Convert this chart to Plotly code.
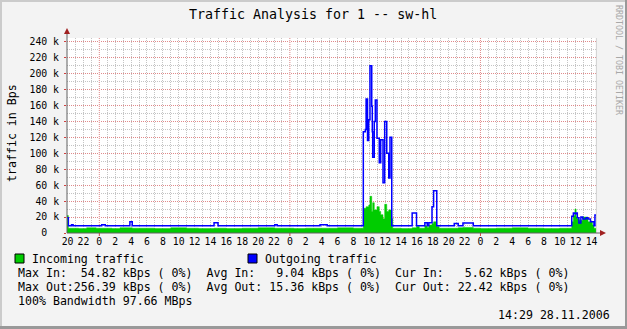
import plotly.graph_objects as go

# ---- data (kBps), hours relative to midnight of the 2nd day ----
hours = [-4.07, -3.9, -3.5, -3.3, -2.6, -1.6, -0.4, 0.3, 0.75, 1.6, 2.6, 3.85, 4.15,
         7.0, 9.0, 11.0, 12.5, 14.45, 14.95, 16.0, 18.0, 20.0, 22.1, 22.4, 24.5, 26.0,
         27.8, 28.7, 30.0, 32.0,
         33.25, 33.5, 33.6, 33.78, 33.93, 34.09, 34.31, 34.38, 34.43, 34.63, 34.76, 34.97,
         35.26, 35.44, 35.73, 35.94, 36.2, 36.45, 36.61, 36.83, 36.95,
         38.0, 39.4, 39.95, 40.3, 41.0, 41.3, 41.5, 41.9, 42.1, 42.5, 42.8, 44.7, 45.2,
         45.8, 47.1, 48.0, 50.0, 52.0, 54.0, 56.0, 58.0,
         59.5, 59.7, 59.9, 60.05, 60.2, 60.4, 60.65, 60.9, 61.3, 61.55, 61.85, 62.1,
         62.3, 62.42, 62.55]
incoming = [22, 6, 6, 6, 5.5, 6.5, 6, 6, 6, 5.5, 6.5, 6.5, 6,
            5.5, 6.5, 6, 5.5, 6, 6, 5.5, 6, 6.5, 6, 6, 5.5, 6,
            6, 6, 6.5, 6,
            31, 31, 33, 33, 35, 46, 27, 27, 38, 29, 29, 33,
            27, 23, 18, 36, 27, 29, 29, 18, 6,
            5.5, 6.5, 8, 6, 9, 7, 10, 12, 14, 8, 6, 6, 6.5,
            7, 6, 5.5, 6, 6.5, 6, 5.5, 6,
            14, 22, 30, 20, 18, 16, 16, 20, 20, 14, 14, 10,
            6, 6, 6]
outgoing = [19, 9, 10.5, 9, 9, 9, 9, 10.5, 9, 9, 9, 14, 9,
            9, 9, 9, 9, 13, 9, 9, 9, 9, 10.5, 9, 9, 9,
            10.5, 9, 9, 9,
            127, 130, 168, 116, 142, 210, 159, 127, 95, 140, 167, 119,
            88, 117, 63, 140, 100, 69, 120, 9, 9,
            9, 25, 9, 9, 13, 9, 13, 33, 53, 9, 9, 12, 9,
            12.5, 9, 9, 9, 9, 9, 9, 9,
            21, 25, 24, 25, 19, 12.5, 20, 17.6, 19, 17.6, 14, 14,
            9, 22.5, 22.5]

x_tick_hours = list(range(-4, 63, 2))
x_tick_text = [str(h % 24) for h in x_tick_hours]
midnights = [0, 24, 48]
y_tick_vals = list(range(0, 241, 20))
y_tick_text = ["0\u00a0\u00a0"] + [f"{v} k" for v in y_tick_vals[1:]]

title_text = "Traffic Analysis for 1 -- sw-hl"
legend_lines = [
    "Max In:  54.82 kBps ( 0%)  Avg In:   9.04 kBps ( 0%)  Cur In:   5.62 kBps ( 0%)",
    "Max Out:256.39 kBps ( 0%)  Avg Out: 15.36 kBps ( 0%)  Cur Out: 22.42 kBps ( 0%)",
    "100% Bandwidth 97.66 MBps",
]
stamp = "14:29 28.11.2006"

# ---- geometry ----
W, H = 627, 329
L, R, T, B = 67, 30, 38, 96
PW, PH = W - L - R, H - T - B
X0, X1 = -4.07, 62.68
Y1 = (H - B - T) / 0.797


def xp(px):
    return (px - L) / PW


def yp(py):
    return (H - B - py) / PH


MONO = "DejaVu Sans Mono"
GREEN = "#00CC00"
BLUE = "#0000FF"

fig = go.Figure()
fig.add_trace(go.Scatter(x=hours, y=incoming, mode="lines", line=dict(shape="hv", color=GREEN, width=0.5),
                         fill="tozeroy", fillcolor=GREEN, hoverinfo="skip", showlegend=False))
fig.add_trace(go.Scatter(x=hours, y=outgoing, mode="lines", line=dict(shape="hv", color=BLUE, width=1.5),
                         hoverinfo="skip", showlegend=False))

grid_minor = "#c4c4c4"
grid_major = "#e08a8a"

fig.update_layout(
    width=W, height=H,
    margin=dict(l=L, r=R, t=T, b=B, pad=0),
    paper_bgcolor="#F3F3F3",
    plot_bgcolor="#FFFFFF",
    showlegend=False,
    xaxis=dict(range=[X0, X1], tickvals=x_tick_hours, ticktext=x_tick_text,
               showgrid=True, gridcolor=grid_minor, griddash="1px,1px", gridwidth=1,
               minor=dict(dtick=1, tick0=0, showgrid=True, gridcolor=grid_minor, griddash="1px,1px"),
               zeroline=False, showline=False, ticks="", ticklabelstandoff=1,
               tickfont=dict(family=MONO, size=9.8, color="#000000")),
    yaxis=dict(range=[0, Y1], tickvals=y_tick_vals, ticktext=y_tick_text,
               showgrid=True, gridcolor=grid_major, griddash="1px,1px",
               minor=dict(dtick=10, tick0=0, showgrid=True, gridcolor=grid_minor, griddash="1px,1px"),
               zeroline=False, showline=False, ticks="outside", ticklen=2, tickcolor="#d04040",
               ticklabelstandoff=3,
               tickfont=dict(family=MONO, size=9.8, color="#000000")),
)

shapes = []
# midnight (major) vertical grid lines
for m in midnights:
    shapes.append(dict(type="line", xref="x", yref="y", x0=m, x1=m, y0=0, y1=Y1,
                       line=dict(color="#ffffff", width=1), layer="between"))
    shapes.append(dict(type="line", xref="x", yref="y", x0=m, x1=m, y0=0, y1=Y1,
                       line=dict(color=grid_major, width=1, dash="1px,1px"), layer="between"))
# right border line of grid
shapes.append(dict(type="line", xref="x", yref="y", x0=X1 - 0.08, x1=X1 - 0.08, y0=0, y1=Y1,
                   line=dict(color="#cfcfcf", width=1), layer="between"))
# canvas frame (3D shade)
shapes += [
    dict(type="rect", xref="paper", yref="paper", x0=xp(0), x1=xp(W), y0=yp(0), y1=yp(2),
         fillcolor="#CBCBCB", line=dict(width=0), layer="above"),
    dict(type="rect", xref="paper", yref="paper", x0=xp(0), x1=xp(2), y0=yp(0), y1=yp(H),
         fillcolor="#CBCBCB", line=dict(width=0), layer="above"),
    dict(type="rect", xref="paper", yref="paper", x0=xp(W - 2), x1=xp(W), y0=yp(0), y1=yp(H),
         fillcolor="#999999", line=dict(width=0), layer="above"),
    dict(type="rect", xref="paper", yref="paper", x0=xp(0), x1=xp(W), y0=yp(H - 3), y1=yp(H),
         fillcolor="#999999", line=dict(width=0), layer="above"),
]
# small red ticks under the axis at midnights
for m in midnights:
    shapes.append(dict(type="line", xref="x", yref="paper", x0=m, x1=m, y0=0, y1=yp(236),
                       line=dict(color="#d04040", width=1), layer="above"))
# axes with arrows
AX = "#606060"
AR = "#a02020"
shapes.append(dict(type="line", xref="paper", yref="paper", x0=0, x1=0, y0=0, y1=yp(33),
                   line=dict(color=AX, width=1), layer="above"))
shapes.append(dict(type="line", xref="paper", yref="paper", x0=0, x1=xp(601), y0=0, y1=0,
                   line=dict(color=AX, width=1), layer="above"))
shapes.append(dict(type="path", xref="paper", yref="paper",
                   path=f"M {xp(64)} {yp(34)} L {xp(70)} {yp(34)} L {xp(67)} {yp(28)} Z",
                   fillcolor=AR, line=dict(width=0), layer="above"))
shapes.append(dict(type="path", xref="paper", yref="paper",
                   path=f"M {xp(600)} {yp(230)} L {xp(600)} {yp(236)} L {xp(606)} {yp(233)} Z",
                   fillcolor=AR, line=dict(width=0), layer="above"))
# legend swatches
shapes.append(dict(type="rect", xref="paper", yref="paper", x0=xp(15), x1=xp(24), y0=yp(254), y1=yp(263),
                   fillcolor=GREEN, line=dict(color="#000000", width=1)))
shapes.append(dict(type="rect", xref="paper", yref="paper", x0=xp(248), x1=xp(257), y0=yp(254), y1=yp(263),
                   fillcolor=BLUE, line=dict(color="#000000", width=1)))
fig.update_layout(shapes=shapes)


def ann(text, x, y, size, xanchor="left", yanchor="middle", color="#000000", angle=0):
    fig.add_annotation(text=text.replace(" ", "\u00a0"), xref="paper", yref="paper", x=xp(x), y=yp(y),
                       xanchor=xanchor, yanchor=yanchor, showarrow=False, textangle=angle,
                       font=dict(family=MONO, size=size, color=color))


ann(title_text, 313, 15, 13.3, xanchor="center")
ann("traffic in Bps", 12, 133, 11.6, xanchor="center", angle=-90)
ann("RRDTOOL / TOBI OETIKER", 619, 60, 8.3, xanchor="center", color="#a8a8a8", angle=90)
ann("Incoming traffic", 30, 259, 11.6)
ann("Outgoing traffic", 263, 259, 11.6)
for i, line in enumerate(legend_lines):
    ann(line, 16, 273.3 + 14 * i, 11.6)
ann(stamp, 612, 315, 11.6, xanchor="right")

fig.write_html("out.html")
